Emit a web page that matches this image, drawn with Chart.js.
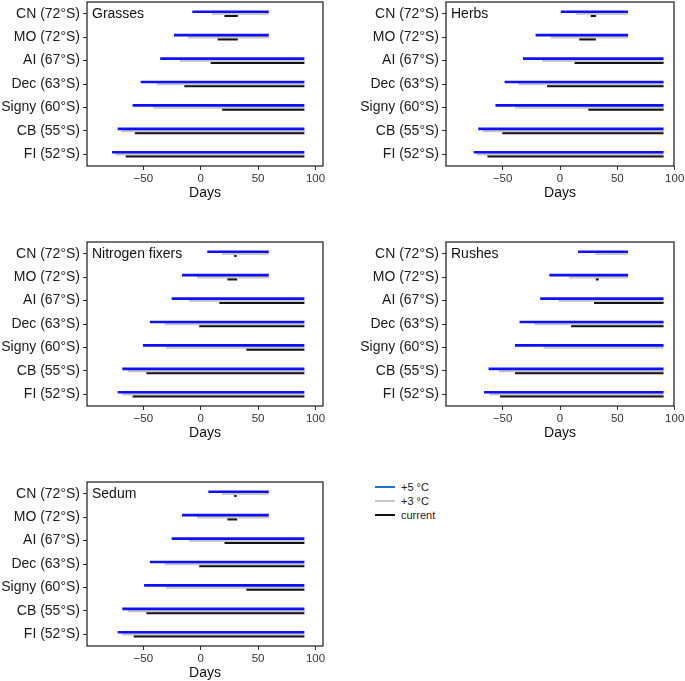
<!DOCTYPE html>
<html>
<head>
<meta charset="utf-8">
<script src="https://cdn.jsdelivr.net/npm/chart.js@4/dist/chart.umd.min.js"></script>
<style>
  body { margin: 0; background: #fff; width: 685px; height: 681px; position: relative; overflow: hidden; font-family: "Liberation Sans", Arial, sans-serif; }
  canvas { position: absolute; }
  .key { position: absolute; left: 375px; font-size: 11px; color: #222; }
  .key span { position: absolute; left: 0; width: 20px; height: 2px; }
  .key b { position: absolute; left: 26px; font-weight: normal; white-space: nowrap; line-height: 12px; top: -6px; }
</style>
</head>
<body>
<canvas id="c1" width="330" height="200" style="left:0;top:0"></canvas>
<canvas id="c2" width="326" height="200" style="left:359px;top:0"></canvas>
<canvas id="c3" width="330" height="200" style="left:0;top:240px"></canvas>
<canvas id="c4" width="326" height="200" style="left:359px;top:240px"></canvas>
<canvas id="c5" width="330" height="200" style="left:0;top:480px"></canvas>
<div id="legend"></div>
<script>
const sites = ['CN (72°S)', 'MO (72°S)', 'AI (67°S)', 'Dec (63°S)', 'Signy (60°S)', 'CB (55°S)', 'FI (52°S)'];
const xTicks = [-50, 0, 50, 100];
const seriesNames = ['+5 °C', '+3 °C', 'current'];

// season windows in days: [start, end]
const grassesPlus5 = [[-7, 59], [-23, 59], [-35, 90], [-52, 90], [-59, 90], [-72, 90], [-77, 90]];
const grassesPlus3 = [[10, 59], [-11, 59], [-18, 90], [-38, 90], [-41, 90], [-69, 90], [-74, 90]];
const grassesNow = [[21, 32], [15, 32], [9, 90], [-14, 90], [19, 90], [-57, 90], [-65, 90]];

const herbsPlus5 = [[1, 59], [-21, 59], [-32, 90], [-48, 90], [-56, 90], [-71, 90], [-75, 90]];
const herbsPlus3 = [[14, 59], [-8, 59], [-15, 90], [-36, 90], [-39, 90], [-67, 90], [-72, 90]];
const herbsNow = [[27, 31], [17, 31], [13, 90], [-11, 90], [25, 90], [-50, 90], [-63, 90]];

const fixersPlus5 = [[6, 59], [-16, 59], [-25, 90], [-44, 90], [-50, 90], [-68, 90], [-72, 90]];
const fixersPlus3 = [[19, 59], [-3, 59], [-10, 90], [-31, 90], [-30, 90], [-63, 90], [-68, 90]];
const fixersNow = [[29.5, 31], [23.5, 31.5], [16.5, 90], [-1, 90], [40, 90], [-47, 90], [-59, 90]];

const rushesPlus5 = [[16, 59], [-9, 59], [-17, 90], [-35, 90], [-39, 90], [-62, 90], [-66, 90]];
const rushesPlus3 = [[31, 59], [8, 59], [-1, 90], [-22, 90], [-14, 90], [-53, 90], [-61, 90]];
const rushesNow = [null, [31.5, 33.5], [30, 90], [10, 90], null, [-39, 90], [-52, 90]];

const sedumPlus5 = [[7, 59], [-16, 59], [-25, 90], [-44, 90], [-49, 90], [-68, 90], [-72, 90]];
const sedumPlus3 = [[19, 59], [-3, 59], [-10, 90], [-31, 90], [-30, 90], [-63, 90], [-68, 90]];
const sedumNow = [[29.5, 31], [23.5, 31.5], [21, 90], [-1, 90], [40, 90], [-47, 90], [-58, 90]];

const lineColors = ['#1010ff', '#c8c8c8', '#151515'];
const keyColors = ['#1874cd', '#c8c8c8', '#111111'];
const FONT = '"Liberation Sans", Arial, sans-serif';

// box around the panel + panel name in the corner
const panelBox = {
  id: 'panelBox',
  afterDraw(chart, args, opts) {
    const a = chart.chartArea, ctx = chart.ctx;
    ctx.save();
    ctx.strokeStyle = '#1a1a1a';
    ctx.lineWidth = 1.2;
    ctx.strokeRect(a.left, a.top, a.right - a.left, a.bottom - a.top);
    ctx.fillStyle = '#111';
    ctx.font = '14px ' + FONT;
    ctx.textBaseline = 'middle';
    ctx.fillText(opts.name, a.left + 5, a.top + 12);
    ctx.restore();
  }
};

function makePanel(id, name, plus5, plus3, now, xmin, xmax, padRight) {
  const sets = [plus5, plus3, now];
  new Chart(document.getElementById(id), {
    type: 'bar',
    data: {
      labels: sites,
      datasets: sets.map((d, i) => ({
        label: seriesNames[i],
        data: d,
        backgroundColor: lineColors[i],
        borderWidth: 0,
        borderSkipped: false,
        barThickness: 2
      }))
    },
    options: {
      indexAxis: 'y',
      responsive: false,
      animation: false,
      layout: { padding: { top: 2, right: padRight, left: 0, bottom: 0 } },
      plugins: { legend: { display: false }, tooltip: { enabled: false }, panelBox: { name: name } },
      scales: {
        x: {
          type: 'linear', min: xmin, max: xmax,
          afterBuildTicks: s => { s.ticks = xTicks.map(v => ({ value: v })); },
          afterFit: s => { s.height = 34; s.paddingLeft = 0; s.paddingRight = 0; },
          grid: { drawOnChartArea: false, drawTicks: true, tickLength: 4, color: '#333' },
          border: { display: false },
          ticks: { color: '#333', font: { family: FONT, size: 11.5 }, padding: 2, maxRotation: 0,
                   callback: v => (v < 0 ? '\u2212' + Math.abs(v) : String(v)) },
          title: { display: true, text: 'Days', color: '#111', font: { family: FONT, size: 14, lineHeight: 1 }, padding: 0 }
        },
        y: {
          afterFit: s => { s.width = 87; s.paddingTop = 0; s.paddingBottom = 0; },
          grid: { offset: false, drawOnChartArea: false, drawTicks: true, tickLength: 4, color: '#333' },
          border: { display: false },
          ticks: { color: '#1a1a1a', font: { family: FONT, size: 14 }, padding: 3 }
        }
      }
    },
    plugins: [panelBox]
  });
}

makePanel('c1', 'Grasses', grassesPlus5, grassesPlus3, grassesNow, -99, 106.5, 7);
makePanel('c2', 'Herbs', herbsPlus5, herbsPlus3, herbsNow, -99.4, 99.4, 11);
makePanel('c3', 'Nitrogen fixers', fixersPlus5, fixersPlus3, fixersNow, -99, 106.5, 7);
makePanel('c4', 'Rushes', rushesPlus5, rushesPlus3, rushesNow, -99.4, 99.4, 11);
makePanel('c5', 'Sedum', sedumPlus5, sedumPlus3, sedumNow, -99, 106.5, 7);

// legend
const legend = document.getElementById('legend');
const keyRows = [487, 501, 515];
seriesNames.forEach((n, i) => {
  const row = document.createElement('div');
  row.className = 'key';
  row.style.top = keyRows[i] + 'px';
  row.innerHTML = '<span style="background:' + keyColors[i] + ';top:-1px"></span><b>' + n + '</b>';
  legend.appendChild(row);
});
</script>
</body>
</html>
